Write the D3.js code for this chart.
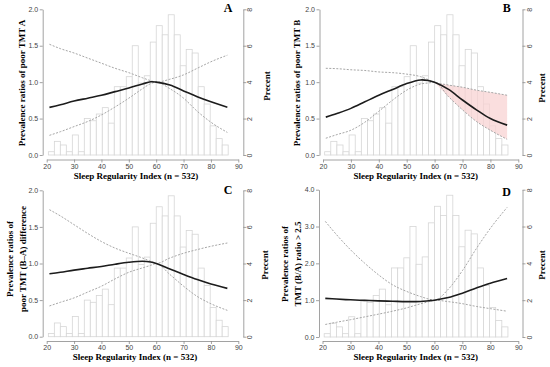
<!DOCTYPE html>
<meta charset="utf-8">
<html>
<head>
<style>
  body { margin: 0; background: #fff; }
  text.tick-lab { font-family: Arial, "Liberation Sans", sans-serif; font-size: 7px; fill: #444; }
  text.ttl { font-family: "Liberation Serif", "Times New Roman", serif; font-weight: bold; font-size: 9px; fill: #000; }
  text.letter { font-family: "Liberation Serif", "Times New Roman", serif; font-weight: bold; font-size: 12px; fill: #000; }
</style>
<script src="https://cdn.jsdelivr.net/npm/d3@7"></script>
</head>
<body>
<div id="chart"></div>
<script>
// Sleep regularity index grid where the curves were read
var sri = [21, 25, 30, 35, 40, 45, 50, 55, 58, 60, 65, 70, 75, 80, 86];

// Histogram (percent per bin), same sample in every panel
var binStart = 20.6, binWidth = 2.19;
var pct = [0.18, 0.75, 0.55, 0.18, 1.1, 0.18, 2.0, 1.88, 2.25, 2.6,
           1.75, 3.75, 3.75, 4.3, 6.0, 3.95, 4.35, 6.2, 7.1, 6.6,
           7.7, 6.6, 4.9, 5.8, 5.6, 3.75, 2.8, 1.6, 0.9, 0.55];

// Panel A - poor TMT A
var prA = [0.654, 0.69, 0.74, 0.78, 0.82, 0.87, 0.92, 0.975, 1.005, 1.0, 0.96, 0.88, 0.80, 0.73, 0.654];
var hiA = [1.52, 1.46, 1.40, 1.33, 1.26, 1.19, 1.13, 1.06, 1.02, 1.0, 1.04, 1.10, 1.19, 1.28, 1.37];
var loA = [0.27, 0.32, 0.39, 0.46, 0.55, 0.66, 0.78, 0.91, 0.98, 1.0, 0.91, 0.78, 0.60, 0.45, 0.31];

// Panel B - poor TMT B
var prB = [0.52, 0.57, 0.64, 0.73, 0.82, 0.90, 0.98, 1.03, 1.02, 1.0, 0.90, 0.755, 0.62, 0.50, 0.41];
var hiB = [1.19, 1.185, 1.17, 1.16, 1.14, 1.13, 1.11, 1.075, 1.03, 1.0, 0.96, 0.93, 0.89, 0.86, 0.82];
var loB = [0.23, 0.28, 0.34, 0.45, 0.60, 0.755, 0.89, 0.975, 0.99, 1.0, 0.80, 0.62, 0.46, 0.34, 0.215];

// Panel C - poor TMT (B-A) difference
var prC = [0.86, 0.88, 0.91, 0.935, 0.96, 0.99, 1.016, 1.03, 1.02, 1.0, 0.925, 0.85, 0.78, 0.72, 0.66];
var hiC = [1.735, 1.65, 1.53, 1.41, 1.30, 1.21, 1.14, 1.075, 1.03, 1.0, 1.075, 1.14, 1.19, 1.235, 1.28];
var loC = [0.42, 0.47, 0.53, 0.61, 0.69, 0.79, 0.88, 0.94, 0.975, 1.0, 0.85, 0.69, 0.55, 0.45, 0.36];

// Panel D - TMT (B/A) ratio > 2.5
var prD = [1.05, 1.03, 1.01, 0.995, 0.98, 0.97, 0.96, 0.965, 0.985, 1.0, 1.07, 1.19, 1.33, 1.46, 1.59];
var hiD = [3.14, 2.78, 2.37, 2.01, 1.69, 1.42, 1.24, 1.10, 1.03, 1.0, 1.3, 1.8, 2.4, 2.95, 3.52];
var loD = [0.34, 0.40, 0.47, 0.545, 0.62, 0.70, 0.79, 0.90, 0.96, 1.0, 0.96, 0.905, 0.83, 0.77, 0.70];

var xTicks = [20, 30, 40, 50, 60, 70, 80, 90];
var pctTicks = [0, 2, 4, 6, 8];

var panels = [
  { letter: "A", pr: prA, hi: hiA, lo: loA, yMax: 2, yTicks: [0, 0.5, 1, 1.5, 2],
    yTitle: ["Prevalence ratios of poor TMT A"], shade: false,
    px: [46.7, 238.3], py: [155, 9.3], axL: 42.7, axR: 243.3, axB: 159.5,
    ttlX: 21.7, ttlY: 83, letX: 228, letY: 11.5, pcX: 266.5, pcY: 86, xtX: 136, xtY: 179 },
  { letter: "B", pr: prB, hi: hiB, lo: loB, yMax: 2, yTicks: [0, 0.5, 1, 1.5, 2],
    yTitle: ["Prevalence ratios of poor TMT B"], shade: true,
    px: [323, 518.3], py: [155, 9.3], axL: 319.5, axR: 522.5, axB: 159.5,
    ttlX: 296.7, ttlY: 83, letX: 506.7, letY: 11.5, pcX: 541.7, pcY: 88, xtX: 415.8, xtY: 179 },
  { letter: "C", pr: prC, hi: hiC, lo: loC, yMax: 2, yTicks: [0, 0.5, 1, 1.5, 2],
    yTitle: ["Prevalence ratios of", "poor TMT (B\u2013A) difference"], shade: false,
    px: [46.7, 238.3], py: [336.7, 190.3], axL: 42.7, axR: 243.3, axB: 341,
    ttlX: 10, ttlX2: 22.7, ttlY: 259, letX: 228, letY: 194, pcX: 265, pcY: 265, xtX: 135, xtY: 360 },
  { letter: "D", pr: prD, hi: hiD, lo: loD, yMax: 4, yTicks: [0, 1, 2, 3, 4],
    yTitle: ["Prevalence ratios of", "TMT (B/A) ratio > 2.5"], shade: false,
    px: [322.5, 518.3], py: [337, 189.7], axL: 319, axR: 522.5, axB: 341,
    ttlX: 285, ttlX2: 297.7, ttlY: 264, letX: 506.7, letY: 196, pcX: 541.7, pcY: 265, xtX: 415.8, xtY: 360 }
];

var svg = d3.select("#chart").append("svg")
  .attr("width", 550)
  .attr("height", 367);

panels.forEach(function(p) {
  var g = svg.append("g");
  var x = d3.scaleLinear().domain([20, 90]).range(p.px);
  var y = d3.scaleLinear().domain([0, p.yMax]).range(p.py);
  var yr = d3.scaleLinear().domain([0, 8]).range(p.py);

  // histogram bars
  g.selectAll(".bar")
    .data(pct)
    .enter().append("rect")
    .attr("class", "bar")
    .attr("x", function(d, i) { return x(binStart + i * binWidth); })
    .attr("width", function(d, i) { return x(binStart + (i + 1) * binWidth) - x(binStart + i * binWidth); })
    .attr("y", function(d) { return yr(d); })
    .attr("height", function(d) { return yr(0) - yr(d); })
    .style("fill", "#fff")
    .style("stroke", "#d6d6d6")
    .style("stroke-width", 0.8);

  var pts = function(arr) { return sri.map(function(s, i) { return [s, arr[i]]; }); };

  // shaded region where the upper limit stays under 1
  if (p.shade) {
    var band = sri.map(function(s, i) { return { s: s, lo: p.lo[i], hi: p.hi[i] }; })
      .filter(function(d) { return d.s >= 60; });
    g.append("path")
      .datum(band)
      .attr("d", d3.area()
        .x(function(d) { return x(d.s); })
        .y0(function(d) { return y(d.lo); })
        .y1(function(d) { return y(d.hi); })
        .curve(d3.curveMonotoneX))
      .style("fill", "#f8d3d3")
      .style("fill-opacity", 0.75);
  }

  var ciLine = d3.line()
    .x(function(d) { return x(d[0]); })
    .y(function(d) { return y(d[1]); })
    .curve(d3.curveMonotoneX);
  var prLine = d3.line()
    .x(function(d) { return x(d[0]); })
    .y(function(d) { return y(d[1]); })
    .curve(d3.curveCatmullRom.alpha(0.5));

  [p.hi, p.lo].forEach(function(arr) {
    g.append("path")
      .datum(pts(arr))
      .attr("d", ciLine)
      .style("fill", "none")
      .style("stroke", "#a6a6a6")
      .style("stroke-width", 1)
      .style("stroke-dasharray", "2,1.5");
  });

  g.append("path")
    .datum(pts(p.pr))
    .attr("d", prLine)
    .style("fill", "none")
    .style("stroke", "#1c1c1c")
    .style("stroke-width", 1.6);

  // axes
  var axL = g.append("g")
    .attr("transform", "translate(" + p.axL + ",0)")
    .call(d3.axisLeft(y).tickValues(p.yTicks).tickFormat(d3.format(".1f"))
      .tickSize(3).tickSizeOuter(0).tickPadding(1.5));
  var axB = g.append("g")
    .attr("transform", "translate(0," + p.axB + ")")
    .call(d3.axisBottom(x).tickValues(xTicks).tickSize(3).tickSizeOuter(0).tickPadding(1.5));
  var axR = g.append("g")
    .attr("transform", "translate(" + p.axR + ",0)")
    .call(d3.axisRight(yr).tickValues(pctTicks).tickSize(3).tickSizeOuter(0));
  axR.selectAll(".tick text")
    .attr("x", 0).attr("dy", 0)
    .attr("transform", "translate(9,0) rotate(-90)")
    .style("text-anchor", "middle");

  [axL, axB, axR].forEach(function(a) {
    a.select(".domain").style("stroke", "#8a8a8a").style("stroke-width", 0.8);
    a.selectAll(".tick line").style("stroke", "#8a8a8a").style("stroke-width", 0.8);
    a.selectAll(".tick text").attr("class", "tick-lab").attr("font-size", null).attr("font-family", null);
  });

  // titles
  g.append("text")
    .attr("class", "ttl")
    .attr("x", p.xtX).attr("y", p.xtY)
    .style("text-anchor", "middle")
    .text("Sleep Regularity Index  (n = 532)");

  p.yTitle.forEach(function(t, k) {
    var tx = k === 0 ? p.ttlX : p.ttlX2;
    g.append("text")
      .attr("class", "ttl")
      .attr("transform", "translate(" + tx + "," + p.ttlY + ") rotate(-90)")
      .attr("dy", "0.35em")
      .style("text-anchor", "middle")
      .text(t);
  });

  g.append("text")
    .attr("class", "ttl")
    .attr("transform", "translate(" + p.pcX + "," + p.pcY + ") rotate(-90)")
    .attr("dy", "0.35em")
    .style("text-anchor", "middle")
    .text("Precent");

  g.append("text")
    .attr("class", "letter")
    .attr("x", p.letX).attr("y", p.letY)
    .style("text-anchor", "middle")
    .text(p.letter);
});
</script>
</body>
</html>
